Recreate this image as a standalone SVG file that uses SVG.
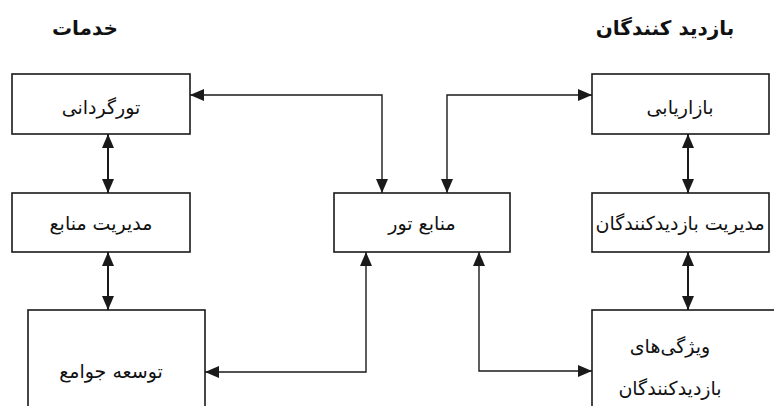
<svg xmlns="http://www.w3.org/2000/svg" width="774" height="406" viewBox="0 0 774 406">
<defs>
<marker id="ah" viewBox="0 0 14 12" refX="14" refY="6" markerWidth="14" markerHeight="12" markerUnits="userSpaceOnUse" orient="auto-start-reverse">
<path d="M0,0 L14,6 L0,12 Z" fill="#1a1a1a"/>
</marker>
</defs>
<style>
.box{fill:#fff;stroke:#1a1a1a;stroke-width:1.6}
.t{font-family:"DejaVu Sans","Noto Sans",sans-serif;font-size:19px;fill:#111;text-anchor:middle;direction:rtl}
.h{font-family:"DejaVu Sans","Noto Sans",sans-serif;font-size:20px;font-weight:bold;fill:#111;text-anchor:middle;direction:rtl}
.c{fill:none;stroke:#1a1a1a;stroke-width:1.4;marker-start:url(#ah);marker-end:url(#ah)}
.c2{fill:none;stroke:#1a1a1a;stroke-width:2;marker-start:url(#ah);marker-end:url(#ah)}
</style>
<rect width="774" height="406" fill="#fff"/>
<text class="h" x="85" y="35">خدمات</text>
<text class="h" x="665" y="35">بازدید کنندگان</text>
<g id="connectors">
<path class="c" d="M382,193 L382,95 L190,95"/>
<path class="c" d="M447,193 L447,95 L592,95"/>
<path class="c" d="M366,252 L366,372 L205,372"/>
<path class="c" d="M479,252 L479,371 L592,371"/>
<path class="c2" d="M108,134 L108,193"/>
<path class="c2" d="M108,252 L108,310"/>
<path class="c2" d="M688,134 L688,193"/>
<path class="c2" d="M688,252 L688,310"/>
</g>
<g id="n-tour-guiding"><rect class="box" x="12" y="74" width="178" height="60"/><text class="t" x="101" y="114">تورگردانی</text></g>
<g id="n-resource-mgmt"><rect class="box" x="12" y="193" width="178" height="59"/><text class="t" x="101" y="230">مدیریت منابع</text></g>
<g id="n-community"><rect class="box" x="28" y="310" width="177" height="110"/><text class="t" x="111" y="378">توسعه جوامع</text></g>
<g id="n-tour-resources"><rect class="box" x="334" y="193" width="176" height="59"/><text class="t" x="422" y="230">منابع تور</text></g>
<g id="n-marketing"><rect class="box" x="592" y="74" width="177" height="60"/><text class="t" x="680" y="114">بازاریابی</text></g>
<g id="n-visitor-mgmt"><rect class="box" x="592" y="193" width="177" height="59"/><text class="t" x="680" y="230">مدیریت بازدیدکنندگان</text></g>
<g id="n-visitor-features"><rect class="box" x="592" y="310" width="190" height="110"/><text class="t" x="670" y="353">ویژگی‌های</text><text class="t" x="670" y="395">بازدیدکنندگان</text></g>
</svg>
